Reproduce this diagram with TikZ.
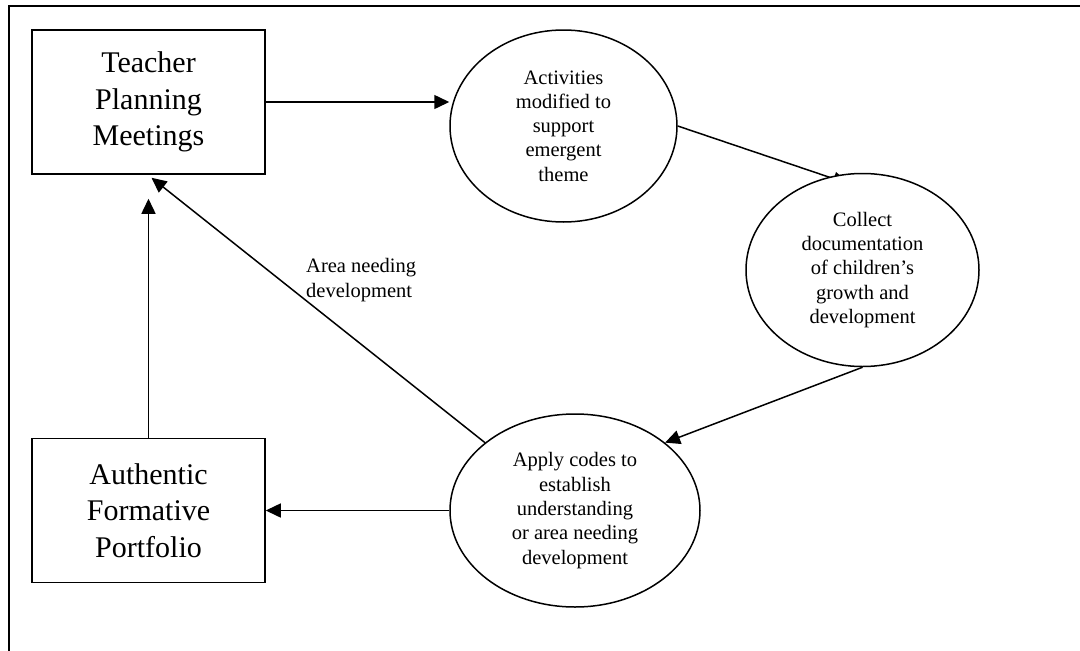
\documentclass[tikz,border=0pt]{standalone}
\usepackage{fontspec}
\setmainfont{Liberation Serif}
\usetikzlibrary{arrows.meta,shapes.geometric,calc}
\pgfdeclarelayer{bg}
\pgfsetlayers{bg,main}
\begin{document}
\begin{tikzpicture}[x=1pt,y=-1pt,
  boxnode/.style={draw,line width=1.5pt,fill=white,minimum width=233pt,minimum height=144pt,inner sep=0pt,align=center,font=\fontsize{30}{36.5}\selectfont},
  ovalnode/.style={draw,ellipse,line width=1.5pt,fill=white,inner sep=0pt,align=center,font=\fontsize{20.5}{24.3}\selectfont},
  lblnode/.style={font=\fontsize{20.5}{24.3}\selectfont,align=left,anchor=west,inner sep=0pt},
  arr/.style={line width=1.5pt,-{Triangle[length=15pt,width=14pt]}},
  framestyle/.style={line width=2.8pt},
]
\useasboundingbox (0,0) rectangle (1080,651);
\coordinate (fb) at (9,651);
\coordinate (ftl) at (9,6);
\coordinate (ftr) at (1080,6);
\draw[framestyle] (fb) -- (ftl) -- (ftr);

\node[boxnode] (tpm) at (148.5,102) {Teacher\\Planning\\Meetings};
\node[boxnode] (afp) at (148.5,510.5) {Authentic\\Formative\\Portfolio};
\node[ovalnode,minimum width=227pt,minimum height=192pt] (act) at (563.5,126) {Activities\\modified to\\support\\emergent\\theme};
\node[ovalnode,minimum width=233pt,minimum height=193pt] (col) at (862.5,270) {Collect\\documentation\\of children’s\\growth and\\development};
\node[ovalnode,minimum width=250pt,minimum height=193pt] (app) at (575,510.5) {Apply codes to\\establish\\understanding\\or area needing\\development};
\node[lblnode] (lbl) at (306,280) {Area needing\\development};

\begin{pgfonlayer}{bg}
\coordinate (t2) at ($(col.center)+(-14.5,-86.5)$);
\draw[arr] (act.east) -- (t2);
\end{pgfonlayer}

\draw[arr] (tpm.east) -- (tpm.east -| act.west);
\draw[arr] (col.south) -- (app.37);
\draw[arr] (app.west) -- (afp.east);
\draw[arr,shorten >=24pt] (afp.north) -- (tpm.south);
\draw[arr] (app.143) -- ([xshift=3pt,yshift=-3pt]tpm.south);
\end{tikzpicture}
\end{document}
